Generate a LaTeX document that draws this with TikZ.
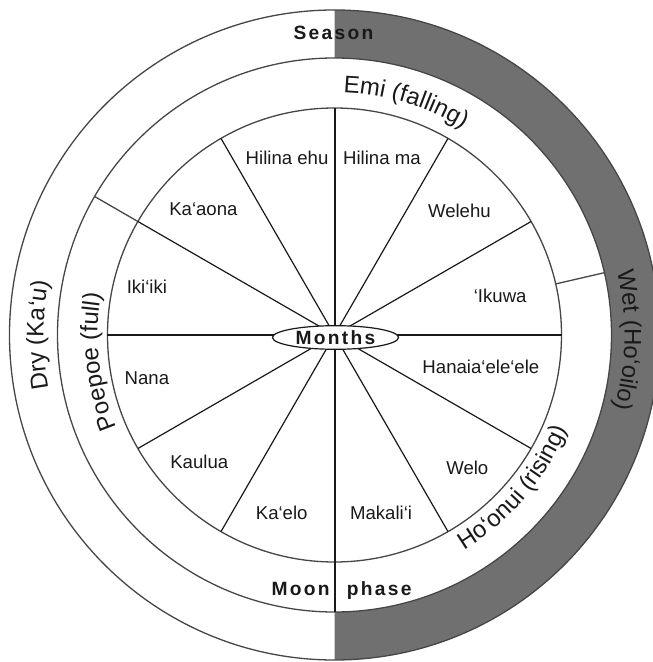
\documentclass[tikz,border=0pt]{standalone}
\usepackage{fontspec}
\setmainfont{Liberation Sans}
\newfontfamily\headfont[LetterSpace=12]{Liberation Sans}
\usetikzlibrary{shapes.geometric,decorations.text}
\definecolor{ink}{RGB}{25,25,25}
\definecolor{rim}{RGB}{70,70,70}
\definecolor{wetgray}{RGB}{112,112,112}
\newcommand\bigfont{\fontsize{12}{14}\selectfont}
\tikzset{
  ring/.style={draw=rim,line width=0.65pt},
  spoke/.style={draw=ink,line width=0.6pt},
  axis/.style={draw=ink,line width=1pt},
  month/.style={font=\fontsize{9.3}{11}\selectfont,text=ink,inner sep=0pt},
  head/.style={font=\fontsize{9.6}{11}\headfont\bfseries,text=ink,inner sep=0pt},
  hub/.style={head,ellipse,draw=ink,line width=0.6pt,fill=white,minimum width=63pt,minimum height=11.8pt},
  curved/.style={decorate,decoration={text along path,text align=center,text color=ink}}
}

\begin{document}
\begin{tikzpicture}[x=0.5pt,y=0.5pt]
\useasboundingbox (-334.5,-327) rectangle (317.5,335);
% season ring, wet half
\fill[wetgray] (90:325) arc[start angle=90,end angle=-90,radius=325]
  -- (-90:277) arc[start angle=-90,end angle=90,radius=277] -- cycle;
\draw[ring] (0,0) circle (325);
\draw[ring] (0,0) circle (277);
\draw[ring] (0,0) circle (227);
% moon phase borders
\draw[ring] (150:227) -- (150:277);
\draw[ring] (13:227) -- (13:277);
% months
\foreach \a in {0,30,...,330}
  \draw[spoke] (0,0) -- (\a:227);
\draw[axis] (0,227) -- (0,-277);
\node[hub] (months) at (1,-2.5) {Months};
\foreach \n/\x/\y/\t in {hehu/-47.4/177.1/Hilina ehu, hma/47.4/177.1/Hilina ma,
    kaaona/-131.1/125.9/Ka‘aona, welehu/124.9/123.8/Welehu,
    ikiiki/-187.6/48.3/Iki‘iki, ikuwa/165.7/39.4/‘Ikuwa,
    nana/-187.6/-43.2/Nana, hanaia/146.4/-31.9/Hanaia‘ele‘ele,
    kaulua/-135.2/-127.1/Kaulua, welo/132.8/-132.6/Welo,
    kaelo/-52.8/-177.5/Ka‘elo, makalii/46.6/-177.5/Makali‘i}
  \node[month] (\n) at (\x,\y) {\t};
% ring titles
\node[head,anchor=base] (season) at (-1,295.7) {Season};
\node[head,anchor=base east] (moon) at (-4.5,-260) {Moon};
\node[head,anchor=base west] (phase) at (12,-260) {phase};
\path[curved,decoration={text={|\bigfont|Emi (falling)}}]
  (100:243) arc[start angle=100,end angle=46,radius=243];
\path[curved,decoration={text={|\bigfont|Poepoe (full)}}]
  (215:237) arc[start angle=215,end angle=158,radius=237];
\path[curved,decoration={text={|\bigfont|Ho‘onui (rising)}}]
  (-62:251) arc[start angle=-62,end angle=-19,radius=251];
\path[curved,decoration={text={|\bigfont|Dry (Ka‘u)}}]
  (205:291) arc[start angle=205,end angle=155,radius=291];
\path[curved,decoration={text={|\bigfont|Wet (Ho‘oilo)}}]
  (25:290) arc[start angle=25,end angle=-27,radius=290];
\end{tikzpicture}
\end{document}
